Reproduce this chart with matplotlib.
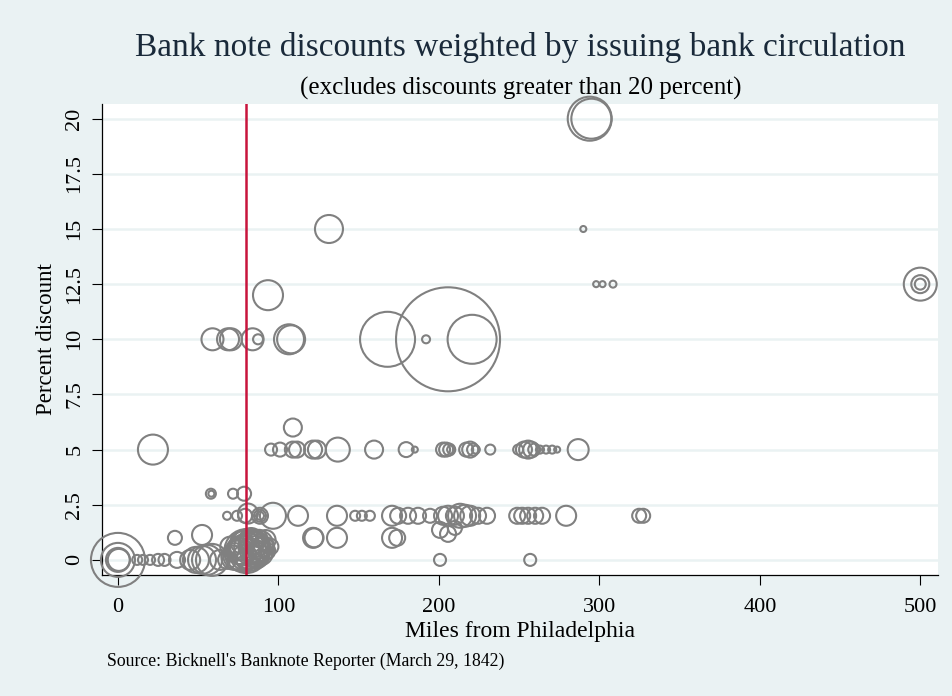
import matplotlib
matplotlib.use("Agg")
import matplotlib.pyplot as plt
import numpy as np

# Bank notes: distance from Philadelphia (miles), discount (percent),
# and issuing bank circulation (relative weight, sets marker area)
miles = [
    # 20 percent
    294, 295,
    # 15 percent
    131.5, 290,
    # 12.5 / 12 percent
    298, 302, 308.5, 500, 500, 500, 93.5,
    # 10 percent
    58.9, 68.6, 70.4, 83.9, 87.3, 106.6, 107.9, 168, 205.7, 192, 220.7,
    # 6 percent
    109,
    # 5 percent
    21.8, 95.4, 101, 109, 111.6, 121.6, 124, 137, 159.6, 179.6, 185,
    202.6, 204.5, 206.4, 207.6, 217, 219.5, 221.3, 223, 232, 249.4,
    253, 255.6, 257.5, 259.4, 263, 266.8, 270.6, 273.7, 286.8,
    # 3 percent
    57.9, 58.2, 71.7, 78.6,
    # 2 percent
    68, 74.2, 79.2, 81, 88.5, 88.5, 88.5, 96.6, 112.2, 136.5,
    147.8, 152, 157, 170.8, 174.6, 180.8, 187, 194.5,
    202.6, 205.7, 210, 213.2, 216.3, 219.5, 224.4, 230,
    248.8, 251.9, 255.6, 260, 264.3, 279.3, 324.8, 327.3,
    # 1 - 1.5 percent
    200.7, 205.7, 210, 121.6, 122.2, 136.5, 170.8, 174, 35.5, 52.4,
    # par notes further out
    200.7, 256.9,
    # par and near-par notes close to Philadelphia
    0, 0, 0, 0.5, 12, 15.6, 20, 25, 29, 36.8, 45, 48.6, 52.4, 55.5,
    58.6, 63.6,
    80, 82, 78, 85, 75, 88, 90, 72, 83, 86, 92, 70, 77, 95, 80, 74,
    84, 88, 68, 79, 81,
    81, 83, 79, 86, 76, 89, 84, 78, 91, 73, 87, 82, 80, 85, 77, 93,
]

discount = [
    20, 20,
    15, 15,
    12.5, 12.5, 12.5, 12.5, 12.5, 12.5, 12,
    10, 10, 10, 10, 10, 10, 10, 10, 10, 10, 10,
    6,
    5, 5, 5, 5, 5, 5, 5, 5, 5, 5, 5,
    5, 5, 5, 5, 5, 5, 5, 5, 5, 5,
    5, 5, 5, 5, 5, 5, 5, 5, 5,
    3, 3, 3, 3,
    2, 2, 2, 2.1, 2, 2, 2, 2, 2, 2,
    2, 2, 2, 2, 2, 2, 2, 2,
    2, 2, 2, 2, 2, 2, 2, 2,
    2, 2, 2, 2, 2, 2, 2, 2,
    1.36, 1.18, 1.45, 1, 1, 1, 1, 1, 1, 1.13,
    0, 0,
    0, 0, 0, 0, 0, 0, 0, 0, 0, 0, 0, 0, 0, 0,
    0, 0,
    0.4, 0.5, 0.3, 0.6, 0.2, 0.7, 0.5, 0.1, 0.9, 0.2, 0.9, 0.6, 0.8, 0.6, 0.0, 0.5,
    0.3, 1.0, 0.0, 0.6, 0.45,
    0.35, 0.55, 0.65, 0.45, 0.4, 0.3, 0.75, 0.2, 0.6, 0.35, 0.5, 0.25, 0.7, 0.15, 0.55, 0.4,
]

circulation = [
    484, 400,
    196, 9,
    9, 9, 12, 272, 81, 30, 225,
    121, 121, 121, 121, 25, 225, 196, 756, 2704, 16, 600,
    81,
    225, 36, 49, 64, 64, 81, 81, 144, 81, 56, 9,
    49, 49, 36, 16, 49, 64, 36, 16, 25, 25,
    64, 81, 64, 36, 16, 16, 16, 9, 110,
    25, 9, 25, 49,
    16, 25, 49, 100, 64, 36, 16, 169, 100, 100,
    25, 25, 25, 100, 64, 64, 64, 49,
    81, 100, 81, 144, 121, 100, 64, 64,
    64, 64, 64, 64, 64, 100, 49, 49,
    64, 64, 49, 100, 90, 100, 100, 64, 49, 100,
    36, 36,
    729, 289, 144, 121, 25, 25, 25, 36, 36, 64, 100, 169, 196, 225,
    256, 100,
    484, 400, 324, 256, 225, 196, 144, 144, 144, 169, 100, 100, 121, 64, 100, 81,
    81, 64, 81, 36, 9,
    361, 289, 225, 196, 169, 144, 121, 100, 100, 81, 64, 49, 36, 100, 144, 64,
]

x_ticks = [0, 100, 200, 300, 400, 500]
y_ticks = [0, 2.5, 5, 7.5, 10, 12.5, 15, 17.5, 20]
y_tick_labels = ["0", "2.5", "5", "7.5", "10", "12.5", "15", "17.5", "20"]
cutoff_miles = 80

bg = "#eaf2f3"
marker_gray = "#808080"

plt.rcParams["font.family"] = ["Liberation Serif", "DejaVu Serif"]

fig = plt.figure(figsize=(9.53, 6.96), dpi=100, facecolor=bg)
ax = fig.add_axes([0.1066, 0.174, 0.8776, 0.677])
ax.set_facecolor("white")

# marker area proportional to circulation (weight in px^2 -> pt^2)
sizes = np.array(circulation, dtype=float) * (2 * 0.72) ** 2
ax.scatter(miles, discount, s=sizes, facecolors="none",
           edgecolors=marker_gray, linewidths=1.5, zorder=3, clip_on=False)

ax.axvline(cutoff_miles, color="#c8143c", linewidth=1.8, zorder=4)

ax.set_xlim(-10.2, 511)
ax.set_ylim(-0.68, 20.68)

ax.set_xticks(x_ticks)
ax.set_yticks(y_ticks)
ax.set_yticklabels(y_tick_labels, rotation=90, va="center")
ax.tick_params(axis="both", direction="out", length=7.5, width=0.8,
               labelsize=16, color="black", pad=5)
ax.tick_params(axis="x", pad=9)
ax.grid(axis="y", color=bg, linewidth=1.8, zorder=0)
ax.set_axisbelow(True)

for side in ["top", "right"]:
    ax.spines[side].set_visible(False)
for side in ["left", "bottom"]:
    ax.spines[side].set_linewidth(0.9)
    ax.spines[side].set_color("black")

ax.set_xlabel("Miles from Philadelphia", fontsize=17, labelpad=3)
ax.set_ylabel("Percent discount", fontsize=16.5, labelpad=6)

fig.text(0.546, 0.932, "Bank note discounts weighted by issuing bank circulation",
         ha="center", va="center", fontsize=24, color="#1a2a3a")
fig.text(0.546, 0.873, "(excludes discounts greater than 20 percent)",
         ha="center", va="center", fontsize=18, color="black")
fig.text(0.112, 0.050, "Source: Bicknell's Banknote Reporter (March 29, 1842)",
         ha="left", va="center", fontsize=12.8, color="black")

fig.savefig("out.png", dpi=100, facecolor=bg)
